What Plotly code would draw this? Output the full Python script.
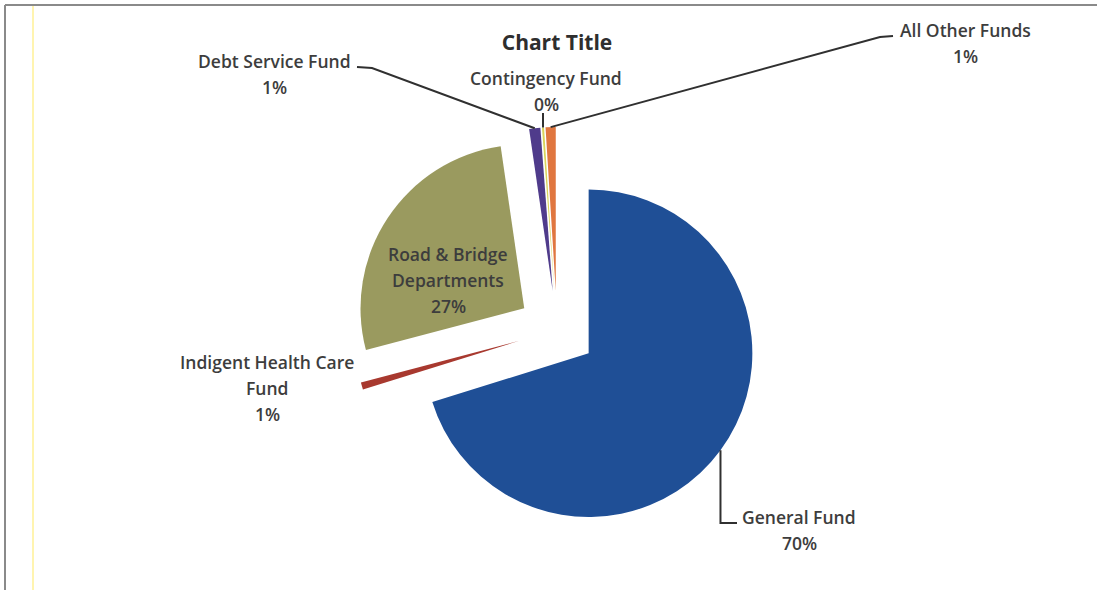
import math
import plotly.graph_objects as go

# ---------------- data ----------------
categories = ["General Fund", "Indigent Health Care Fund", "Road & Bridge Departments",
              "Debt Service Fund", "Contingency Fund", "All Other Funds"]
values = [70.2, 0.7, 26.8, 1.1, 0.2, 1.0]
label_names = [["General Fund"], ["Indigent Health Care", "Fund"], ["Road & Bridge", "Departments"],
               ["Debt Service Fund"], ["Contingency Fund"], ["All Other Funds"]]

# ---------------- styling / layout ----------------
colors = ["#1f4f96", "#a8392f", "#9a9a5f", "#4f3b8b", "#d9d45a", "#e0763f"]
pull = 0.24
W, H = 1097, 590
CX, CY = 557, 330          # pie centre in pixels
BOX = 406                  # pie box (diameter incl. pull) in pixels
FONT = "Open Sans"
TXT = "#3d3d3d"

# label anchor (centre of first line) in pixels and line spacing
label_pos = [(799, 517), (267, 362), (448, 254), (274, 61), (546, 78), (965, 30)]
LINE_SP = 26

def px2paper(x, y):
    return x / W, 1 - y / H

dom_y0 = 1 - (CY + BOX / 2) / H
dom_y1 = 1 - (CY - BOX / 2) / H
dom_x0 = (CX - 230) / W
dom_x1 = (CX + 230) / W

fig = go.Figure(go.Pie(
    labels=categories, values=values, sort=False, direction="clockwise", rotation=0,
    pull=[pull] * len(values), textinfo="none", hoverinfo="label+percent",
    marker=dict(colors=colors, line=dict(width=0)),
    domain=dict(x=[dom_x0, dom_x1], y=[dom_y0, dom_y1]), showlegend=False,
))

# geometry derived from the data
total = sum(values)
R = (BOX / 2) / (1 + pull)
K = pull * R
cum = 0
outer_pts = []
for v in values:
    mid = (cum + v / 2) / total * 2 * math.pi
    cum += v
    d = R + K
    outer_pts.append((CX + d * math.sin(mid), CY - d * math.cos(mid)))

annotations = []
for i, (names, (lx, ly)) in enumerate(zip(label_names, label_pos)):
    pct = f"{round(values[i] / total * 100)}%"
    lines = names + [pct]
    for j, t in enumerate(lines):
        x, y = px2paper(lx, ly + j * LINE_SP)
        annotations.append(dict(x=x, y=y, xref="paper", yref="paper", text=t, showarrow=False,
                                xanchor="center", yanchor="middle",
                                font=dict(family=FONT, size=17.5, color=TXT, weight=600)))

# leader lines (elbows are layout positions, start points come from slice geometry)
leaders = {
    0: lambda s: [s, (s[0], 523), (737, 523)],
    3: lambda s: [s, (372, 68), (357, 67)],
    4: lambda s: [s, (s[0], 113)],
    5: lambda s: [s, (880, 37), (893, 36)],
}
shapes = []
for i, f in leaders.items():
    pts = f(outer_pts[i])
    path = ""
    for k, (x, y) in enumerate(pts):
        px, py = px2paper(x, y)
        path += ("M" if k == 0 else " L") + f" {px:.5f},{py:.5f}"
    shapes.append(dict(type="path", path=path, xref="paper", yref="paper",
                       line=dict(color="#303030", width=2)))

# scan frame
shapes.append(dict(type="line", xref="paper", yref="paper", x0=5 / W, x1=1, y0=1 - 5 / H, y1=1 - 5 / H,
                   line=dict(color="#8a8a8a", width=2)))
shapes.append(dict(type="line", xref="paper", yref="paper", x0=5 / W, x1=5 / W, y0=0, y1=1 - 5 / H,
                   line=dict(color="#8a8a8a", width=2)))
shapes.append(dict(type="line", xref="paper", yref="paper", x0=33 / W, x1=33 / W, y0=0, y1=1 - 6 / H,
                   line=dict(color="#fff4b0", width=2)))

fig.update_layout(
    width=W, height=H, margin=dict(l=0, r=0, t=0, b=0),
    paper_bgcolor="white", plot_bgcolor="white",
    title=dict(text="<b>Chart Title</b>", x=CX / W, xanchor="center", y=1 - 43 / H, yanchor="middle",
               yref="container", font=dict(family=FONT, size=21, color="#2e2e2e")),
    annotations=annotations, shapes=shapes,
)

fig.write_html("out.html")
